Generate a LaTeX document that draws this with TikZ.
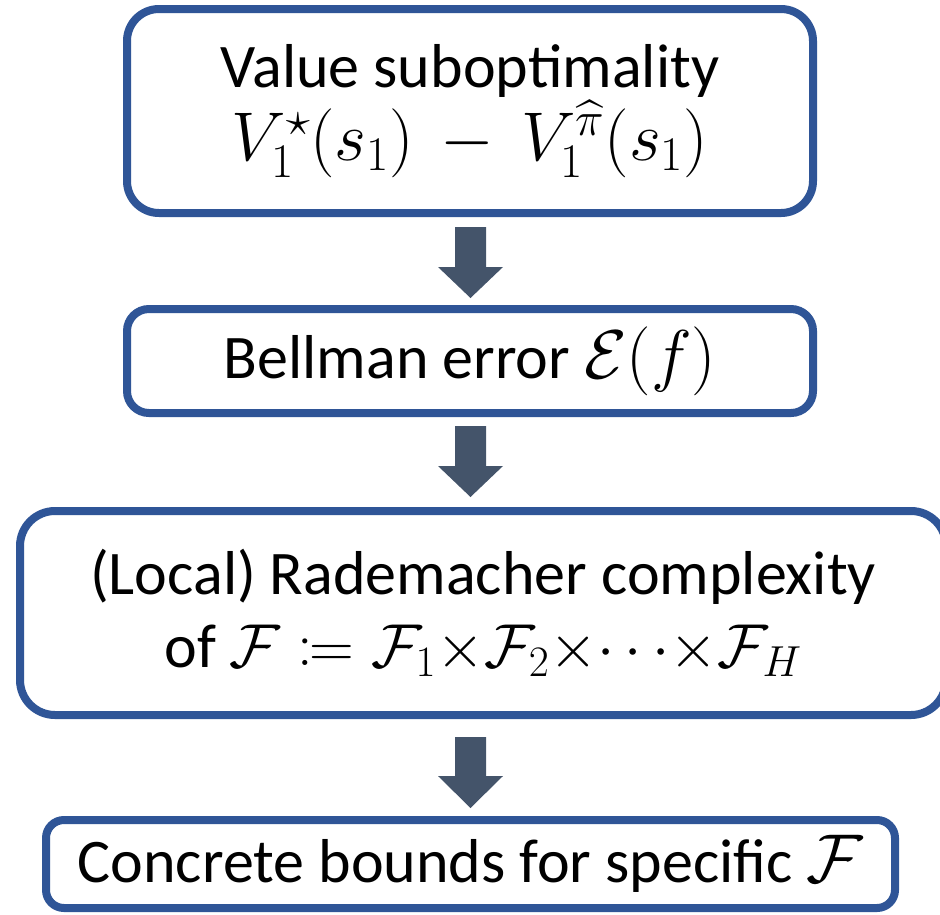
\RequirePackage{fix-cm}
\documentclass[tikz,border=0pt]{standalone}
\usepackage{amsmath,amssymb,mathtools}
\usepackage{fontspec}
\setmainfont{Carlito}
\definecolor{boxblue}{HTML}{2F5597}
\definecolor{arrowgray}{HTML}{44546A}
\tikzset{
  flowbox/.style={draw=boxblue, line width=8pt, fill=white, align=center,
    font=\fontsize{62}{73}\selectfont, inner sep=0pt},
  blockarrow/.style={fill=arrowgray, draw=none}
}
\newcommand\bigmath[1]{{\fontsize{69}{73}\selectfont$#1$}}
\newcommand\dnarrow[4]{% x, top, head, tip
  \fill[blockarrow] (#1-15.5,#2) -- (#1+15.5,#2) -- (#1+15.5,#3) -- (#1+32.5,#3)
    -- (#1,#4) -- (#1-32.5,#3) -- (#1-15.5,#3) -- cycle;}
\begin{document}
\begin{tikzpicture}[x=1pt,y=-1pt]
\useasboundingbox (0,0) rectangle (940,914);
\clip (0,0) rectangle (940,914);
\node[flowbox, rounded corners=32pt, minimum width=686pt, minimum height=204pt] (b1) at (470,111)
  {Value suboptimality\\ \bigmath{V_1^{\star}(s_1)\,-\,V_1^{\widehat{\pi}}(s_1)}};
\node[flowbox, rounded corners=22pt, minimum width=686pt, minimum height=104pt] (b2) at (470,361)
  {Bellman error \bigmath{\mathcal{E}(f)}};
\node[flowbox, rounded corners=35pt, minimum width=926pt, minimum height=204pt] (b3) at (483,613)
  {(Local) Rademacher complexity\\ of $\mathcal{F}\coloneqq\mathcal{F}_1{\times}\mathcal{F}_2{\times}{\cdots}{\times}\mathcal{F}_H$};
\node[flowbox, rounded corners=18pt, minimum width=849pt, minimum height=88pt] (b4) at (470.5,864)
  {Concrete bounds for specific \bigmath{\mathcal{F}}};
\dnarrow{470.5}{227}{267}{298}
\dnarrow{470.5}{426}{466}{497}
\dnarrow{470.5}{737}{776}{808}
\end{tikzpicture}
\end{document}
